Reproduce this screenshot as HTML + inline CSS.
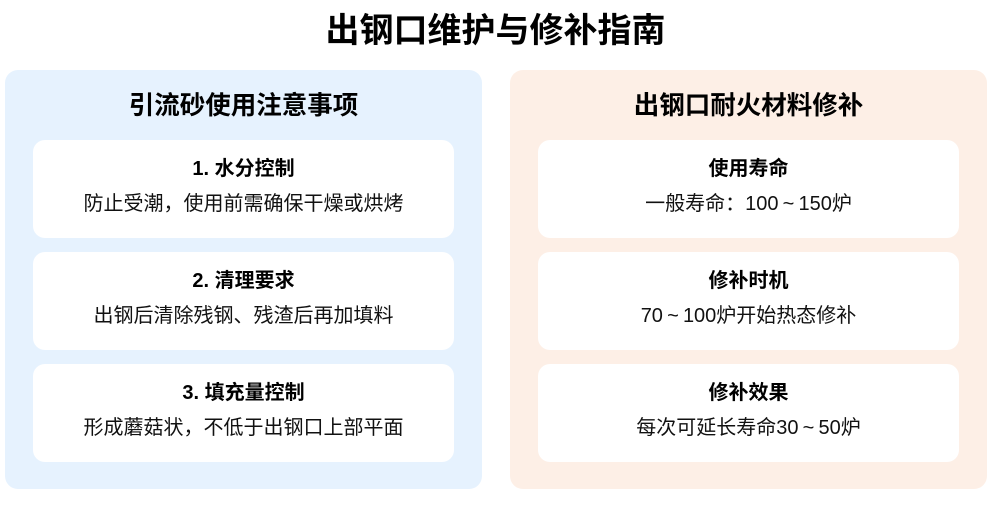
<!DOCTYPE html>
<html>
<head>
<meta charset="utf-8">
<style>
  html, body { margin:0; padding:0; }
  body {
    width:1000px; height:516px; background:#ffffff; position:relative; overflow:hidden;
    font-family:"Liberation Sans","Noto Sans CJK SC",sans-serif; color:#111;
  }
  .title {
    position:absolute; left:0; width:991px; top:12px; height:38px; line-height:38px;
    text-align:center; font-size:34px; font-weight:bold; color:#000;
  }
  .panel {
    position:absolute; top:70px; width:477px; height:419px; border-radius:13px;
  }
  .left { left:5px; background:#e6f2fe; }
  .right { left:510px; background:#fdefe6; }
  .ph {
    position:absolute; left:0; width:100%; top:22px; height:28px; line-height:28px;
    text-align:center; font-size:25.5px; font-weight:bold; color:#000;
  }
  .card {
    position:absolute; left:28px; width:421px; height:98px; background:#fff; border-radius:12px;
  }
  .c1 { top:70px; } .c2 { top:182px; } .c3 { top:294px; }
  .ct {
    position:absolute; left:0; width:100%; top:17px; height:24px; line-height:24px;
    text-align:center; font-size:20px; font-weight:bold; color:#000;
  }
  .cd {
    position:absolute; left:0; width:100%; top:52px; height:24px; line-height:24px;
    text-align:center; font-size:20px; color:#111;
  }
  .tl { display:inline-block; width:20px; text-align:center; font-family:"Liberation Sans",sans-serif; }
</style>
</head>
<body>
  <div class="title">出钢口维护与修补指南</div>

  <div class="panel left">
    <div class="ph">引流砂使用注意事项</div>
    <div class="card c1">
      <div class="ct">1. 水分控制</div>
      <div class="cd">防止受潮，使用前需确保干燥或烘烤</div>
    </div>
    <div class="card c2">
      <div class="ct">2. 清理要求</div>
      <div class="cd">出钢后清除残钢、残渣后再加填料</div>
    </div>
    <div class="card c3">
      <div class="ct">3. 填充量控制</div>
      <div class="cd">形成蘑菇状，不低于出钢口上部平面</div>
    </div>
  </div>

  <div class="panel right">
    <div class="ph">出钢口耐火材料修补</div>
    <div class="card c1">
      <div class="ct">使用寿命</div>
      <div class="cd">一般寿命：100<span class="tl">~</span>150炉</div>
    </div>
    <div class="card c2">
      <div class="ct">修补时机</div>
      <div class="cd">70<span class="tl">~</span>100炉开始热态修补</div>
    </div>
    <div class="card c3">
      <div class="ct">修补效果</div>
      <div class="cd">每次可延长寿命30<span class="tl">~</span>50炉</div>
    </div>
  </div>
</body>
</html>
